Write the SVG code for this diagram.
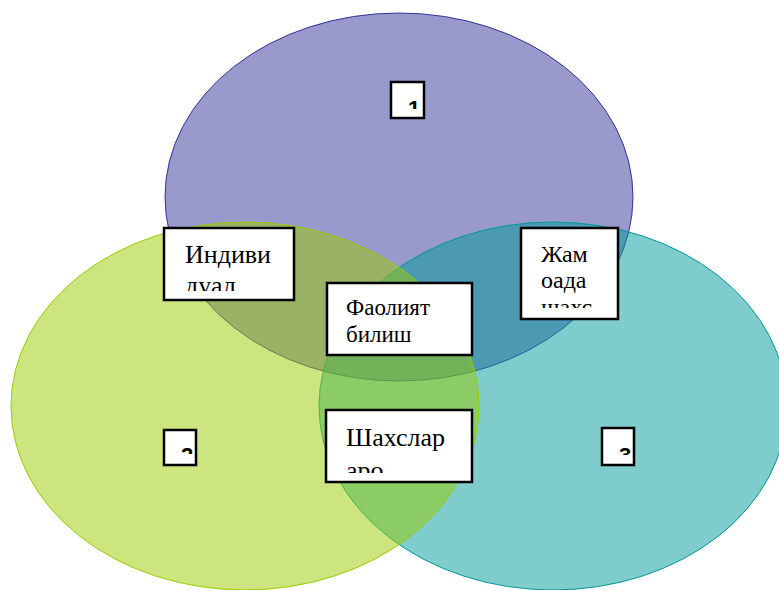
<svg xmlns="http://www.w3.org/2000/svg" width="779" height="590" viewBox="0 0 779 590">
<style>
.box{fill:#fff;stroke:#000;stroke-width:2.5}
.t{font-family:'Liberation Serif','Times New Roman',serif;fill:#000}
.d{font-family:'Liberation Sans',sans-serif;font-weight:bold;fill:#000}
</style>
<defs>
<clipPath id="c1"><rect x="166" y="230" width="126" height="61"/></clipPath>
<clipPath id="c2"><rect x="523" y="230" width="93" height="78"/></clipPath>
<clipPath id="c3"><rect x="329" y="285" width="141" height="68"/></clipPath>
<clipPath id="c4"><rect x="328" y="412" width="142" height="61"/></clipPath>
<clipPath id="s1"><rect x="393" y="84" width="29" height="25"/></clipPath>
<clipPath id="s2"><rect x="166" y="432" width="28" height="22"/></clipPath>
<clipPath id="s3"><rect x="604" y="430" width="28" height="25"/></clipPath>
</defs>
<rect width="779" height="590" fill="#fff"/>
<g id="circles">
<ellipse id="top" cx="399" cy="197" rx="234" ry="184" fill="#333399" fill-opacity="0.5" stroke="#333399" stroke-width="1"/>
<ellipse id="right" cx="553" cy="406" rx="234" ry="184" fill="#009999" fill-opacity="0.5" stroke="#009999" stroke-width="1"/>
<ellipse id="left" cx="245" cy="406" rx="234" ry="184" fill="#99cc00" fill-opacity="0.5" stroke="#99cc00" stroke-width="1"/>
</g>
<g id="label1">
<rect class="box" x="391" y="82" width="33" height="36"/>
<text class="d" x="408" y="116" font-size="22" clip-path="url(#s1)">1</text>
</g>
<g id="label2">
<rect class="box" x="164" y="430" width="32" height="35"/>
<text class="d" x="181" y="463" font-size="22" clip-path="url(#s2)">2</text>
</g>
<g id="label3">
<rect class="box" x="602" y="428" width="32" height="37"/>
<text class="d" x="619" y="463" font-size="22" clip-path="url(#s3)">3</text>
</g>
<g id="individual">
<rect class="box" x="164" y="228" width="130" height="72"/>
<g clip-path="url(#c1)">
<text class="t" x="185" y="263" font-size="26">Индиви</text>
<text class="t" x="185" y="294" font-size="26">дуал</text>
</g>
</g>
<g id="jamoa">
<rect class="box" x="521" y="228" width="97" height="91"/>
<g clip-path="url(#c2)">
<text class="t" x="541" y="262" font-size="24">Жам</text>
<text class="t" x="541" y="288" font-size="24">оада</text>
<text class="t" x="541" y="315" font-size="24">шахс</text>
</g>
</g>
<g id="faoliyat">
<rect class="box" x="327" y="283" width="145" height="72"/>
<g clip-path="url(#c3)">
<text class="t" x="346" y="315" font-size="23">Фаолият</text>
<text class="t" x="346" y="342" font-size="23">билиш</text>
</g>
</g>
<g id="shaxslar">
<rect class="box" x="326" y="410" width="146" height="72"/>
<g clip-path="url(#c4)">
<text class="t" x="346" y="446" font-size="26">Шахслар</text>
<text class="t" x="346" y="479" font-size="26">аро</text>
</g>
</g>
</svg>
